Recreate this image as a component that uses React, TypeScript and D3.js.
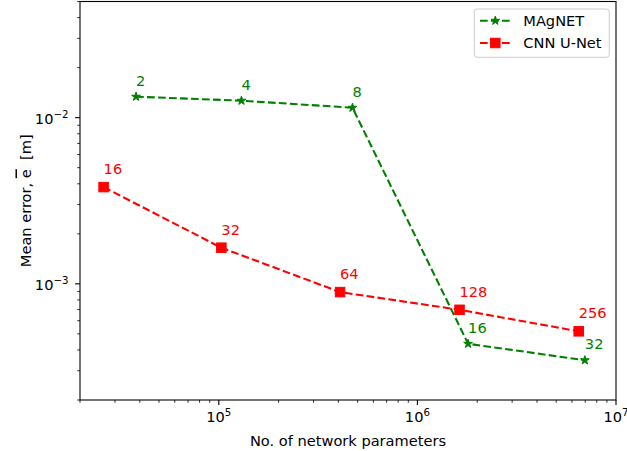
import * as d3 from "d3";

// MAgNET (green stars)
const magnetParams = [3.83e4, 1.3e5, 4.71e5, 1.8e6, 6.97e6];
const magnetError = [0.01337, 0.01265, 0.01148, 4.36e-4, 3.47e-4];
const magnetLabels = ["2", "4", "8", "16", "32"];

// CNN U-Net (red squares)
const cnnParams = [2.63e4, 1.03e5, 4.08e5, 1.63e6, 6.49e6];
const cnnError = [3.82e-3, 1.65e-3, 8.92e-4, 6.98e-4, 5.18e-4];
const cnnLabels = ["16", "32", "64", "128", "256"];

const xMajor = [5, 6, 7];
const yMajor = [-3, -2];

const W = 627;
const H = 451;
const margin = { left: 80, right: 11, top: 1.5, bottom: 51 };
const FONT = "'DejaVu Sans', sans-serif";
const FS = 14.6;
const GREEN = "#008000";
const RED = "#ff0000";

function starPath(r: number) {
  const inner = r * 0.381966;
  const pts: string[] = [];
  for (let i = 0; i < 10; i++) {
    const rad = i % 2 === 0 ? r : inner;
    const a = -Math.PI / 2 + (i * Math.PI) / 5;
    pts.push(`${(rad * Math.cos(a)).toFixed(2)},${(rad * Math.sin(a)).toFixed(2)}`);
  }
  return "M" + pts.join("L") + "Z";
}

function Star({ x, y, color }: { x: number; y: number; color: string }) {
  return <path d={starPath(4.6)} transform={`translate(${x},${y})`} fill={color} stroke={color} strokeWidth={1} />;
}

function Square({ x, y, color }: { x: number; y: number; color: string }) {
  const s = 9.5;
  return <rect x={x - s / 2} y={y - s / 2} width={s} height={s} fill={color} stroke={color} strokeWidth={1} />;
}

export default function App() {
  const x = d3.scaleLog().domain([2e4, 1e7]).range([margin.left, W - margin.right]);
  const y = d3.scaleLog().domain([2e-4, 5e-2]).range([H - margin.bottom, margin.top]);

  const [x0, x1] = x.range();
  const [y0, y1] = y.range();

  // minor ticks = everything that isn't a power of ten
  const isMinor = (t: number) => Math.abs(Math.log10(t) - Math.round(Math.log10(t))) > 1e-9;
  const xMinor = x.ticks().filter(isMinor);
  const yMinor = y.ticks().filter(isMinor);

  const line = d3
    .line<[number, number]>()
    .x((d) => x(d[0]))
    .y((d) => y(d[1]));

  const magnet = magnetParams.map((p, i) => [p, magnetError[i]] as [number, number]);
  const cnn = cnnParams.map((p, i) => [p, cnnError[i]] as [number, number]);
  const dash = "7.7,3.3";

  return (
    <svg width={W} height={H} style={{ position: "absolute", left: 0, top: 0, background: "#fff" }} fontFamily={FONT}>
      <rect width={W} height={H} fill="#fff" />

      <path d={line(magnet) ?? ""} fill="none" stroke={GREEN} strokeWidth={2.08} strokeDasharray={dash} />
      <path d={line(cnn) ?? ""} fill="none" stroke={RED} strokeWidth={2.08} strokeDasharray={dash} />

      {magnet.map((d, i) => (
        <Star key={"m" + i} x={x(d[0])} y={y(d[1])} color={GREEN} />
      ))}
      {cnn.map((d, i) => (
        <Square key={"c" + i} x={x(d[0])} y={y(d[1])} color={RED} />
      ))}

      {/* point labels */}
      {magnet.map((d, i) => (
        <text key={"ml" + i} x={x(d[0])} y={y(d[1]) - 11} fontSize={FS} fill={GREEN}>
          {magnetLabels[i]}
        </text>
      ))}
      {cnn.map((d, i) => (
        <text key={"cl" + i} x={x(d[0])} y={y(d[1]) - 13} fontSize={FS} fill={RED}>
          {cnnLabels[i]}
        </text>
      ))}

      <rect x={x0} y={y1} width={x1 - x0} height={y0 - y1} fill="none" stroke="#000" strokeWidth={1.1} />

      {/* x ticks */}
      {xMinor.map((t) => (
        <line key={"xm" + t} x1={x(t)} x2={x(t)} y1={y0} y2={y0 + 2.8} stroke="#000" strokeWidth={0.8} />
      ))}
      {xMajor.map((e) => (
        <g key={"xM" + e}>
          <line x1={x(10 ** e)} x2={x(10 ** e)} y1={y0} y2={y0 + 4.9} stroke="#000" strokeWidth={1.1} />
          <text x={x(10 ** e)} y={422} fontSize={FS} textAnchor="middle">
            10<tspan dy={-5.8} fontSize={FS * 0.7}>{e}</tspan>
          </text>
        </g>
      ))}

      {/* y ticks */}
      {yMinor.map((t) => (
        <line key={"ym" + t} x1={x0} x2={x0 - 2.8} y1={y(t)} y2={y(t)} stroke="#000" strokeWidth={0.8} />
      ))}
      {yMajor.map((e) => (
        <g key={"yM" + e}>
          <line x1={x0} x2={x0 - 4.9} y1={y(10 ** e)} y2={y(10 ** e)} stroke="#000" strokeWidth={1.1} />
          <text x={68.5} y={y(10 ** e) + 6} fontSize={FS} textAnchor="end">
            10<tspan dy={-5.8} fontSize={FS * 0.7}>{"\u2212" + Math.abs(e)}</tspan>
          </text>
        </g>
      ))}

      <text x={(x0 + x1) / 2} y={445.5} fontSize={FS} textAnchor="middle">
        No. of network parameters
      </text>
      <text transform={`translate(30.5, ${(y0 + y1) / 2}) rotate(-90)`} fontSize={FS} textAnchor="middle">
        Mean error, <tspan style={{ textDecoration: "overline" }}>e</tspan>{"\u00a0 [m]"}
      </text>

      {/* legend */}
      <g>
        <rect x={474.3} y={9} width={135} height={48.3} rx={3} fill="#fff" fillOpacity={0.8} stroke="#cccccc" strokeWidth={1} />
        <line x1={480} x2={510.7} y1={20.7} y2={20.7} stroke={GREEN} strokeWidth={2.08} strokeDasharray={dash} />
        <Star x={495.3} y={20.7} color={GREEN} />
        <text x={523.3} y={26} fontSize={FS}>MAgNET</text>
        <line x1={480} x2={510.7} y1={43} y2={43} stroke={RED} strokeWidth={2.08} strokeDasharray={dash} />
        <Square x={495.3} y={43} color={RED} />
        <text x={523.3} y={48.3} fontSize={FS}>CNN U-Net</text>
      </g>
    </svg>
  );
}
